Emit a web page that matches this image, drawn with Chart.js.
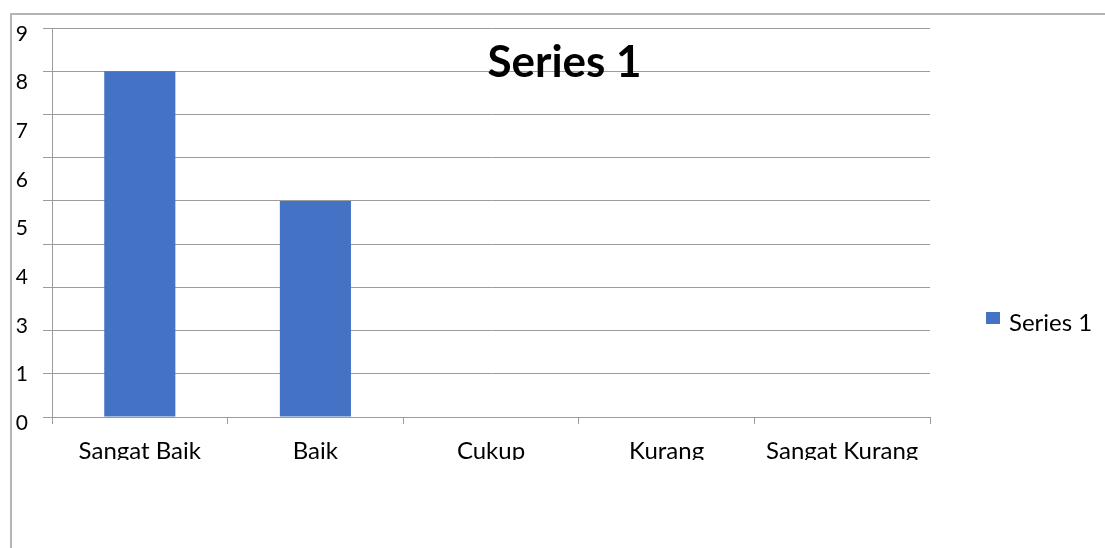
<!DOCTYPE html>
<html>
<head>
<meta charset="utf-8">
<script src="https://cdn.jsdelivr.net/npm/chart.js@4/dist/chart.umd.min.js"></script>
<style>
  html, body { margin: 0; padding: 0; background: #fff; }
  body { width: 1105px; height: 548px; position: relative; overflow: hidden; }
  #frame {
    position: absolute; left: 10px; top: 13px; right: -4px; bottom: -4px;
    border-top: 2px solid #b4b4b4; border-left: 2px solid #b4b4b4;
  }
  #chart { position: absolute; left: 0; top: 0; }
</style>
</head>
<body>
<div id="frame"></div>
<canvas id="chart" width="1105" height="460"></canvas>
<script>
// Rating categories and the count for each
const categories = ['Sangat Baik', 'Baik', 'Cukup', 'Kurang', 'Sangat Kurang'];
const series1 = [8, 5, 0, 0, 0];
const seriesName = 'Series 1';
const chartTitle = 'Series 1';
// Labels printed down the value axis
const yTickLabels = ['9', '8', '7', '6', '5', '4', '3', '1', '0'];

const GRID = '#9c9c9c';
const BAR = '#4472C4';
const FONT = 'Lato';

Chart.defaults.font.family = FONT;
Chart.defaults.color = '#000';

// Title drawn over the plot and a simple legend at the right
const overlay = {
  id: 'overlay',
  afterDraw(chart) {
    const ctx = chart.ctx;
    const area = chart.chartArea;
    ctx.save();
    ctx.fillStyle = '#000';
    ctx.font = 'bold 44px ' + FONT;
    ctx.textAlign = 'center';
    ctx.textBaseline = 'alphabetic';
    ctx.fillText(chartTitle, chart.width / 2 + 12, area.top + 49);

    const ds = chart.data.datasets[0];
    const bx = area.right + 56;
    const by = area.top + 284;
    ctx.fillStyle = ds.backgroundColor;
    ctx.fillRect(bx, by, 14, 12);
    ctx.fillStyle = '#000';
    ctx.font = '24px ' + FONT;
    ctx.textAlign = 'left';
    ctx.fillText(ds.label, bx + 23, by + 19);
    ctx.restore();
  }
};

new Chart(document.getElementById('chart'), {
  type: 'bar',
  data: {
    labels: categories,
    datasets: [{
      label: seriesName,
      data: series1,
      backgroundColor: BAR,
      borderWidth: 0,
      barPercentage: 0.405,
      categoryPercentage: 1.0,
      xAxisID: 'x',
      yAxisID: 'y'
    }]
  },
  options: {
    responsive: false,
    animation: false,
    layout: { padding: { top: 28, right: 175, bottom: 0, left: 10 } },
    plugins: {
      legend: { display: false },
      title: { display: false },
      tooltip: { enabled: false }
    },
    scales: {
      x: {
        type: 'category',
        position: 'bottom',
        grid: {
          display: true, drawOnChartArea: false, offset: true,
          tickLength: 7, color: GRID, lineWidth: 1
        },
        border: { display: true, color: GRID, width: 1 },
        ticks: {
          font: { size: 24, family: FONT }, color: '#000',
          padding: 13, maxRotation: 0, autoSkip: false
        },
        afterFit(scale) { scale.height = 43; }
      },
      y: {
        type: 'linear',
        position: 'left',
        weight: 0,
        min: 0,
        max: 9,
        ticks: { display: false, stepSize: 1 },
        grid: { color: GRID, lineWidth: 1, tickLength: 9, drawTicks: true },
        border: { display: true, color: GRID, width: 1 },
        afterFit(scale) { scale.width = 9; }
      },
      yLabels: {
        type: 'category',
        position: 'left',
        weight: 1,
        labels: yTickLabels,
        offset: false,
        grid: { display: false, drawTicks: false },
        border: { display: false },
        ticks: {
          font: { size: 21, family: FONT }, color: '#000',
          padding: 15, labelOffset: 6, autoSkip: false
        },
        afterFit(scale) { scale.width = 33; }
      }
    }
  },
  plugins: [overlay]
});
</script>
</body>
</html>
